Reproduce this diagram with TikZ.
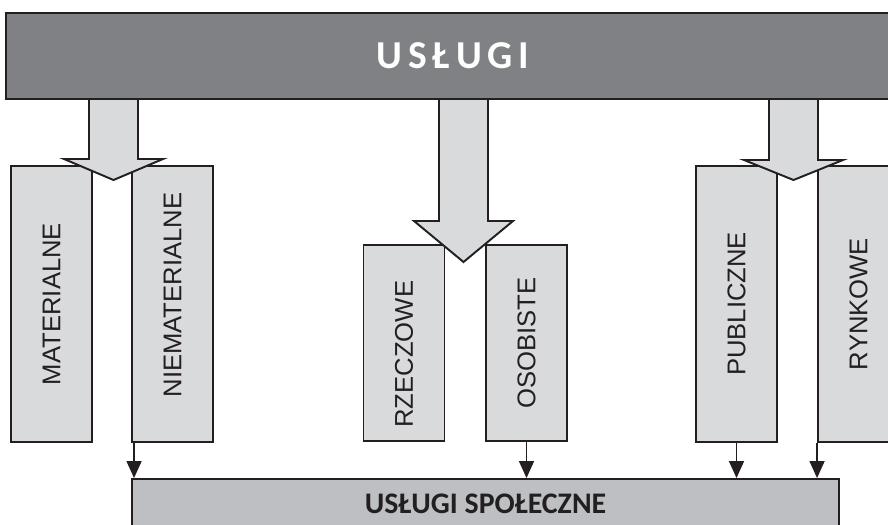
\documentclass[tikz,border=0pt]{standalone}
\usepackage{fontspec}
\usepackage{graphicx}
\setmainfont{Liberation Sans}
\newfontfamily\titlefont[LetterSpace=15]{Carlito}
\newfontfamily\barfont{Carlito}
\usetikzlibrary{arrows.meta}

\definecolor{darkbar}{HTML}{808184}
\definecolor{lightbox}{HTML}{D9DADC}
\definecolor{midbar}{HTML}{BEBFC2}
\definecolor{inkline}{HTML}{231F20}

\tikzset{
  sidebox/.style={draw=inkline, line width=1.1pt, fill=lightbox, inner sep=0pt,
    minimum width=1.62cm, text=inkline, font=\fontsize{14.6}{16}\selectfont},
  tallbox/.style={sidebox, minimum height=5.52cm},
  shortbox/.style={sidebox, minimum height=3.92cm},
  bigarrow/.style={draw=inkline, line width=1.1pt, line join=miter},
  conn/.style={draw=inkline, line width=0.9pt, -{Triangle[width=0.3cm,length=0.34cm]}},
}

\begin{document}
\begin{tikzpicture}[x=0.02cm, y=-0.02cm]
\useasboundingbox (0,0) rectangle (888,524);
\clip (0,0) rectangle (888,524);

% main bar
\node[draw=inkline, line width=1.1pt, fill=darkbar, inner sep=0pt,
      minimum width=17.9cm, minimum height=1.72cm, text=white]
      (uslugi) at (453,56) {\titlefont\bfseries\fontsize{22.5}{24}\selectfont USŁUGI};

% kinds of services
\node[tallbox]  (mat)    at (51.5,304)  {\rotatebox{90}{MATERIALNE}};
\node[tallbox]  (niemat) at (172.5,304) {\rotatebox{90}{\hspace*{0.36cm}NIEMATERIALNE}};
\node[shortbox] (rzecz)  at (404,343)   {\rotatebox{90}{RZECZOWE\hspace*{0.45cm}}};
\node[shortbox] (osob)   at (526.5,343) {\rotatebox{90}{OSOBISTE}};
\node[tallbox]  (publ)   at (736.5,304) {\rotatebox{90}{PUBLICZNE}};
\node[tallbox]  (rynk)   at (858.5,304) {\rotatebox{90}{RYNKOWE}};

% bottom bar
\node[draw=inkline, line width=1.1pt, fill=midbar, inner sep=0pt,
      minimum width=14.14cm, minimum height=0.98cm, text=inkline]
      (spol) at (485.5,503.5) {\barfont\bfseries\fontsize{17}{18}\selectfont USŁUGI SPOŁECZNE};

\draw[conn] ([xshift=0.06cm]niemat.south west) -- ([xshift=0.06cm]niemat.south west |- spol.north);
\draw[conn] (osob.south) -- (osob.south |- spol.north);
\draw[conn] (publ.south) -- (publ.south |- spol.north);
\draw[conn] (rynk.south west) -- (rynk.south west |- spol.north);

% block arrows: centre / head top / tip
\foreach \cx/\hd/\tp in {113.5/159/180, 463.5/221/262, 793.5/160/180}{
  \fill[lightbox] (\cx-24.5,100) -- (\cx-24.5,\hd) -- (\cx-49.5,\hd) -- (\cx,\tp)
    -- (\cx+49.5,\hd) -- (\cx+24.5,\hd) -- (\cx+24.5,100) -- cycle;
  \draw[bigarrow] (\cx-24.5,99) -- (\cx-24.5,\hd) -- (\cx-49.5,\hd) -- (\cx,\tp)
    -- (\cx+49.5,\hd) -- (\cx+24.5,\hd) -- (\cx+24.5,99);
}
\end{tikzpicture}
\end{document}
